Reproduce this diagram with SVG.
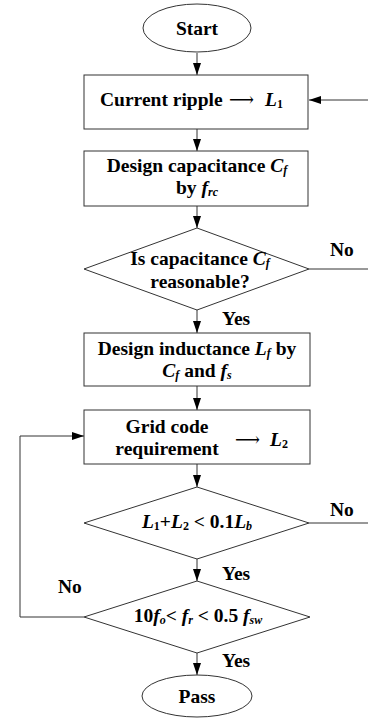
<svg xmlns="http://www.w3.org/2000/svg" width="368" height="718" viewBox="0 0 368 718">
<style>
text{font-family:"Liberation Serif","Times New Roman",serif;font-weight:bold;font-size:19.5px;fill:#000}
.c{text-anchor:middle}
.i{font-style:italic}
.s{font-size:12px}
.shape{fill:#fff;stroke:#333;stroke-width:1}
.ln{fill:none;stroke:#333;stroke-width:1}
.arr{font-family:"DejaVu Serif",serif;font-weight:normal}
</style>
<defs>
<marker id="ah" markerUnits="userSpaceOnUse" markerWidth="13" markerHeight="9" refX="12" refY="4" orient="auto">
<path d="M0,0 L12,4 L0,8 z" fill="#000"/>
</marker>
</defs>
<g id="connectors">
<line class="ln" x1="197" y1="53" x2="197" y2="75" marker-end="url(#ah)"/>
<line class="ln" x1="368" y1="100" x2="309" y2="100" marker-end="url(#ah)"/>
<line class="ln" x1="197" y1="129" x2="197" y2="151" marker-end="url(#ah)"/>
<line class="ln" x1="197" y1="206" x2="197" y2="228" marker-end="url(#ah)"/>
<line class="ln" x1="309" y1="269" x2="368" y2="269"/>
<line class="ln" x1="197" y1="310" x2="197" y2="333" marker-end="url(#ah)"/>
<line class="ln" x1="197" y1="386" x2="197" y2="410" marker-end="url(#ah)"/>
<line class="ln" x1="197" y1="464" x2="197" y2="487" marker-end="url(#ah)"/>
<line class="ln" x1="309" y1="523" x2="368" y2="523"/>
<line class="ln" x1="197" y1="559" x2="197" y2="581" marker-end="url(#ah)"/>
<polyline class="ln" points="84,617 20,617 20,436 84,436" marker-end="url(#ah)"/>
<line class="ln" x1="197" y1="653" x2="197" y2="675" marker-end="url(#ah)"/>
<text x="330" y="256">No</text>
<text x="222" y="325">Yes</text>
<text x="330" y="516">No</text>
<text x="222" y="580">Yes</text>
<text x="58" y="593">No</text>
<text x="222" y="667">Yes</text>
</g>
<g id="start">
<ellipse class="shape" cx="197" cy="28" rx="54" ry="24"/>
<text class="c" x="197" y="35">Start</text>
</g>
<g id="current-ripple">
<rect class="shape" x="84" y="75" width="224" height="54"/>
<text x="100" y="106">Current ripple</text>
<text class="arr" x="229" y="106" textLength="25" lengthAdjust="spacingAndGlyphs">⟶</text>
<text x="265" y="106"><tspan class="i">L</tspan><tspan class="s" dy="2">1</tspan></text>
</g>
<g id="design-capacitance">
<rect class="shape" x="84" y="151" width="224" height="55"/>
<text class="c" x="197" y="172">Design capacitance <tspan class="i">C</tspan><tspan class="i s" dy="2">f</tspan></text>
<text class="c" x="197" y="194">by <tspan class="i">f</tspan><tspan class="i s" dy="2">rc</tspan></text>
</g>
<g id="check-capacitance">
<polygon class="shape" points="84,269 197,228 309,269 197,310"/>
<text class="c" x="200" y="265">Is capacitance <tspan class="i">C</tspan><tspan class="i s" dy="2">f</tspan></text>
<text class="c" x="200" y="288">reasonable?</text>
</g>
<g id="design-inductance">
<rect class="shape" x="84" y="333" width="226" height="53"/>
<text class="c" x="197" y="355">Design inductance <tspan class="i">L</tspan><tspan class="i s" dy="2">f</tspan><tspan dy="-2"> by</tspan></text>
<text class="c" x="197" y="377"><tspan class="i">C</tspan><tspan class="i s" dy="2">f</tspan><tspan dy="-2"> and </tspan><tspan class="i">f</tspan><tspan class="i s" dy="2">s</tspan></text>
</g>
<g id="grid-code">
<rect class="shape" x="84" y="410" width="226" height="54"/>
<text class="c" x="167" y="433">Grid code</text>
<text class="c" x="167" y="455">requirement</text>
<text class="arr" x="235" y="446" textLength="25" lengthAdjust="spacingAndGlyphs">⟶</text>
<text x="270" y="446"><tspan class="i">L</tspan><tspan class="s" dy="2">2</tspan></text>
</g>
<g id="check-inductance">
<polygon class="shape" points="84,523 197,487 309,523 197,559"/>
<text class="c" x="197" y="528"><tspan class="i">L</tspan><tspan class="s" dy="2">1</tspan><tspan dy="-2">+</tspan><tspan class="i">L</tspan><tspan class="s" dy="2">2</tspan><tspan dy="-2"> &lt; 0.1</tspan><tspan class="i">L</tspan><tspan class="i s" dy="2">b</tspan></text>
</g>
<g id="check-resonance">
<polygon class="shape" points="84,617 197,581 310,617 197,653"/>
<text class="c" x="198" y="622">10<tspan class="i">f</tspan><tspan class="i s" dy="2">o</tspan><tspan dy="-2">&lt; </tspan><tspan class="i">f</tspan><tspan class="i s" dy="2">r</tspan><tspan dy="-2"> &lt; 0.5 </tspan><tspan class="i">f</tspan><tspan class="i s" dy="2">sw</tspan></text>
</g>
<g id="pass">
<ellipse class="shape" cx="197" cy="696" rx="55" ry="21"/>
<text class="c" x="197" y="703">Pass</text>
</g>
</svg>
